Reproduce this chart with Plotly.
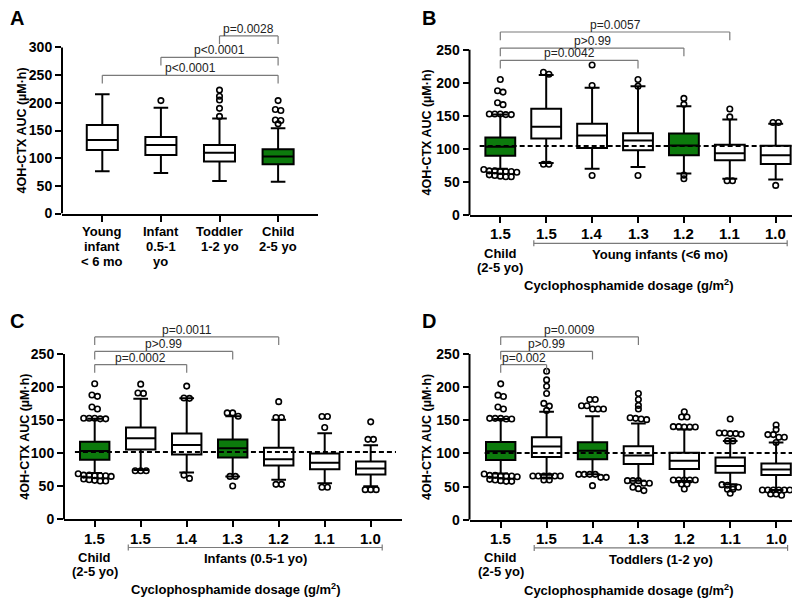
import plotly.graph_objects as go

# ---------------- data ----------------
A_LABELS = [["Young", "infant", "&lt; 6 mo"], ["Infant", "0.5-1", "yo"], ["Toddler", "1-2 yo"], ["Child", "2-5 yo"]]
A_LO = [76.6, 73.0, 58.8, 57.6]
A_Q1 = [114.7, 105.8, 94.0, 89.0]
A_MED = [133.0, 123.6, 110.0, 103.0]
A_Q3 = [159.8, 138.4, 124.0, 116.0]
A_HI = [215.7, 191.0, 171.7, 154.0]
A_OUT = [[], [204], [223, 212, 205, 190, 175.5], [204, 188, 186, 169, 168, 162]]
A_GREEN = [0, 0, 0, 1]
A_PVALS = [("p&lt;0.0001", 0, 3), ("p&lt;0.0001", 1, 3), ("p=0.0028", 2, 3)]

DOSE_LABELS = [["1.5"], ["1.5"], ["1.4"], ["1.3"], ["1.2"], ["1.1"], ["1.0"]]
CHILD_LINES = ["Child", "(2-5 yo)"]
X_TITLE = "Cyclophosphamide dosage (g/m<sup>2</sup>)"
Y_TITLE = "4OH-CTX AUC (µM·h)"

CHILD_OUT = [205, 188, 186, 170, 167, 153, 153, 153, 152, 152,
             69, 67, 67, 66, 66, 66, 65, 61, 60, 59, 58, 58]

B_GROUP = "Young infants (&lt;6 mo)"
B_LO = [70, 79, 70, 73, 63, 55, 54]
B_Q1 = [90, 116, 101.5, 98, 90.5, 83, 77.5]
B_MED = [103.5, 133.5, 120.5, 113, 105.5, 93.5, 90.5]
B_Q3 = [117.5, 161, 138, 124, 123.5, 106.5, 105]
B_HI = [152, 212, 192.5, 195, 164.5, 144.5, 138]
B_OUT = [CHILD_OUT, [216, 213, 77, 77], [227, 196, 60], [205, 195, 60],
         [176.5, 167.5, 60.5, 55], [160.5, 148.5, 52, 52], [140, 140, 45]]
B_GREEN = [1, 0, 0, 0, 1, 0, 0]
B_REF = 104.4
B_PVALS = [("p=0.0042", 0, 3), ("p&gt;0.99", 0, 4), ("p=0.0057", 0, 5)]

C_GROUP = "Infants (0.5-1 yo)"
C_LO = [70, 74.5, 71, 65, 60, 54.5, 50]
C_Q1 = [90, 105.5, 98, 93.5, 81.5, 76, 68]
C_MED = [103.5, 122.5, 112.5, 107.5, 91, 85.5, 77]
C_Q3 = [117.5, 139, 130, 120.8, 108.4, 99.5, 87.5]
C_HI = [152, 182.5, 183, 156, 150.7, 130.3, 112]
C_OUT = [CHILD_OUT, [204.5, 191, 190.5, 73.5, 73.5, 73.5], [201.5, 183.5, 183, 67, 62],
         [161, 161, 156, 65, 65, 50.5], [178, 154, 154, 53, 53],
         [155.5, 155.5, 139, 48.5, 48.5], [147.5, 121, 121, 45, 45, 45]]
C_GREEN = [1, 0, 0, 1, 0, 0, 0]
C_REF = 102
C_PVALS = [("p=0.0002", 0, 2), ("p&gt;0.99", 0, 3), ("p=0.0011", 0, 4)]

D_GROUP = "Toddlers (1-2 yo)"
D_LO = [70, 68, 68.5, 59, 58.5, 53.5, 45]
D_Q1 = [90, 94.7, 91.3, 84, 76.5, 71, 67.5]
D_MED = [103.5, 110.5, 104, 97, 89, 81, 76]
D_Q3 = [117.5, 124.5, 117, 111, 101, 94, 85]
D_HI = [152, 163, 156.3, 145.3, 136, 119, 116.5]
D_OUT = [CHILD_OUT,
         [224, 211, 201.5, 190.5, 175.5, 171.5, 165, 66, 66, 66, 66, 66, 66, 60, 60],
         [181.5, 181.5, 172, 172, 167, 167, 167, 68.5, 68.5, 68.5, 68.5, 64, 64, 51.5],
         [190.5, 181.5, 172.5, 167, 154, 153, 152, 151, 59, 59, 59, 55, 55, 49, 47, 44],
         [163, 155, 155, 140.5, 140.5, 140, 140, 140, 60, 60, 60, 60, 60, 54, 54, 46.5],
         [152, 131, 131, 130, 130, 129, 119, 119, 53, 52, 49, 49, 46, 46, 40],
         [143, 136, 128.5, 128.5, 124.5, 124.5, 116.5, 45, 45, 45, 45, 45, 45, 39, 39, 37]]
D_GREEN = [1, 0, 1, 0, 0, 0, 0]
D_REF = 100.8
D_PVALS = [("p=0.002", 0, 1), ("p&gt;0.99", 0, 2), ("p=0.0009", 0, 3)]

# ---------------- styling / geometry ----------------
W, H = 800, 601
FONT = "Liberation Sans, Arial, sans-serif"
GREEN = "#0c7a0c"
GRAY = "#7a7a7a"

PANELS = [
    dict(key="A", sfx="", letter=(8.5, 10), ytitle_x=14,
         x_left=54, x_right=310, cat0=94.3, step=58.6,
         y0=208.3, ppu=0.561, ymax=330, ytop=300, box_w=0.53, whisk=0.47,
         labels=A_LABELS, lab_size=13, lab_first=18.5, lab_gap=15,
         lo=A_LO, q1=A_Q1, med=A_MED, q3=A_Q3, hi=A_HI, out=A_OUT,
         green=A_GREEN, pvals=A_PVALS, ptops=[249.6, 282.2, 320.9], ref=None, group=None),
    dict(key="B", sfx="2", letter=(420.5, 10), ytitle_x=419,
         x_left=461.5, x_right=799, cat0=492.3, step=45.9,
         y0=210, ppu=0.6708, ymax=285, ytop=250, box_w=0.65, whisk=0.5,
         labels=DOSE_LABELS, lab_size=15, lab_first=19, lab_gap=15,
         lo=B_LO, q1=B_Q1, med=B_MED, q3=B_Q3, hi=B_HI, out=B_OUT,
         green=B_GREEN, pvals=B_PVALS, ptops=[234.0, 252.5, 276.8], ref=B_REF, ref_x=(-0.45, 6.41),
         group=B_GROUP, xtitle_px=621),
    dict(key="C", sfx="3", letter=(8.5, 317.5), ytitle_x=17,
         x_left=56, x_right=394, cat0=86.7, step=46.0,
         y0=518.3, ppu=0.6704, ymax=285, ytop=250, box_w=0.64, whisk=0.5,
         labels=DOSE_LABELS, lab_size=15, lab_first=19, lab_gap=15,
         lo=C_LO, q1=C_Q1, med=C_MED, q3=C_Q3, hi=C_HI, out=C_OUT,
         green=C_GREEN, pvals=C_PVALS, ptops=[234.0, 254.0, 275.9], ref=C_REF, ref_x=(-0.43, 6.55),
         group=C_GROUP, xtitle_px=228),
    dict(key="D", sfx="4", letter=(420.5, 317.5), ytitle_x=419,
         x_left=461.5, x_right=799, cat0=492.7, step=45.9,
         y0=518.7, ppu=0.672, ymax=285, ytop=250, box_w=0.64, whisk=0.5,
         labels=DOSE_LABELS, lab_size=15, lab_first=19, lab_gap=15,
         lo=D_LO, q1=D_Q1, med=D_MED, q3=D_Q3, hi=D_HI, out=D_OUT,
         green=D_GREEN, pvals=D_PVALS, ptops=[234.0, 254.0, 275.9], ref=D_REF, ref_x=(-0.35, 6.63),
         group=D_GROUP, xtitle_px=621),
]


def py(px):
    return 1 - px / H


def spread(values, tol, step):
    """GraphPad-like horizontal spreading of outliers that would overlap."""
    vals = sorted(values, reverse=True)
    xs, ys = [], []
    i = 0
    while i < len(vals):
        j = i
        while j < len(vals) and vals[i] - vals[j] < tol:
            j += 1
        n = j - i
        for k in range(n):
            xs.append((k - (n - 1) / 2) * step)
            ys.append(vals[i + k])
        i = j
    return xs, ys


def bold_text(xref, x, y, text, size, yanchor="middle"):
    return dict(xref=xref, yref="paper", x=x, y=y, text="<b>%s</b>" % text, showarrow=False,
                xanchor="center", yanchor=yanchor, font=dict(family=FONT, size=size, color="black"))


fig = go.Figure()
layout = dict(width=W, height=H, margin=dict(l=0, r=0, t=0, b=0), autosize=False,
              plot_bgcolor="white", paper_bgcolor="white", showlegend=False,
              font=dict(family=FONT, color="black"))
shapes, annos = [], []

for p in PANELS:
    xa, ya = "x" + p["sfx"], "y" + p["sfx"]
    r0 = (p["x_left"] - p["cat0"]) / p["step"]
    r1 = (p["x_right"] - p["cat0"]) / p["step"]
    n = len(p["labels"])
    ytop_px = p["y0"] - p["ymax"] * p["ppu"]
    layout["xaxis" + p["sfx"]] = dict(
        domain=[p["x_left"] / W, p["x_right"] / W], range=[r0, r1], anchor=ya,
        showgrid=False, zeroline=False, showline=True, linecolor="black", linewidth=2,
        ticks="outside", ticklen=6, tickwidth=2, tickcolor="black",
        tickvals=list(range(n)), showticklabels=False)
    layout["yaxis" + p["sfx"]] = dict(
        domain=[py(p["y0"]), py(ytop_px)], range=[0, p["ymax"]], anchor=xa,
        showgrid=False, zeroline=False, showline=False,
        ticks="outside", ticklen=6, tickwidth=2, tickcolor="black",
        tickvals=list(range(0, p["ytop"] + 1, 50)),
        tickfont=dict(family=FONT, size=14, color="black", weight="bold"))

    # y axis line (only up to the last tick)
    shapes.append(dict(type="line", xref=xa + " domain", yref=ya, x0=0, x1=0, y0=0, y1=p["ytop"],
                       line=dict(color="black", width=2)))

    # category labels (one annotation per line for exact line spacing)
    for i, lines in enumerate(p["labels"]):
        for k, ln in enumerate(lines):
            annos.append(bold_text(xa, i, py(p["y0"] + p["lab_first"] + k * p["lab_gap"]), ln, p["lab_size"]))

    # boxes
    for i in range(n):
        fig.add_trace(go.Box(
            x=[i], q1=[p["q1"][i]], median=[p["med"][i]], q3=[p["q3"][i]],
            lowerfence=[p["lo"][i]], upperfence=[p["hi"][i]],
            width=p["box_w"], whiskerwidth=p["whisk"], boxpoints=False,
            fillcolor=GREEN if p["green"][i] else "white",
            line=dict(color="black", width=2), xaxis=xa, yaxis=ya, hoverinfo="skip"))

    # outliers
    tol = 3.5 / p["ppu"]
    stp = 5.5 / p["step"]
    for i in range(n):
        if not p["out"][i]:
            continue
        dx, yy = spread(p["out"][i], tol, stp)
        fig.add_trace(go.Scatter(
            x=[i + d for d in dx], y=yy, mode="markers", xaxis=xa, yaxis=ya,
            marker=dict(symbol="circle-open", size=5.5, color="black", line=dict(width=1.6)),
            cliponaxis=False, hoverinfo="skip"))

    # dashed reference line (child median)
    if p["ref"] is not None:
        fig.add_trace(go.Scatter(
            x=list(p["ref_x"]), y=[p["ref"], p["ref"]], mode="lines", xaxis=xa, yaxis=ya,
            line=dict(color="black", width=2, dash="5px,3px"), hoverinfo="skip"))

    # p-value brackets
    drop = 8.3 / p["ppu"]
    for (txt, a, b), top in zip(p["pvals"], p["ptops"]):
        for (x0, y0_, x1, y1_) in [(a, top, b, top), (a, top - drop, a, top), (b, top - drop, b, top)]:
            shapes.append(dict(type="line", xref=xa, yref=ya, x0=x0, x1=x1, y0=y0_, y1=y1_,
                               line=dict(color=GRAY, width=1.2)))
        annos.append(dict(xref=xa, yref=ya, x=(a + b) / 2, y=top, text=txt, showarrow=False,
                          xanchor="center", yanchor="bottom", yshift=-2,
                          font=dict(family=FONT, size=12, color="#222")))

    # panel letter
    annos.append(bold_text("paper", p["letter"][0] / W, py(p["letter"][1]), p["key"], 20))
    # y title
    yt = bold_text("paper", p["ytitle_x"] / W, py(p["y0"] - p["ytop"] * p["ppu"] / 2), Y_TITLE, 12.5)
    yt["textangle"] = -90
    annos.append(yt)

    if p["group"] is not None:
        base = p["y0"]
        gy = py(base + 28.5)
        gt = 3 / H
        shapes.append(dict(type="line", xref=xa, yref="paper", x0=0.73, x1=6.25, y0=gy, y1=gy,
                           line=dict(color=GRAY, width=1.2)))
        for gx in (0.73, 6.25):
            shapes.append(dict(type="line", xref=xa, yref="paper", x0=gx, x1=gx, y0=gy - gt, y1=gy + gt,
                               line=dict(color=GRAY, width=1.2)))
        annos.append(bold_text(xa, 0, py(base + 38.5), CHILD_LINES[0], 13))
        annos.append(bold_text(xa, 0, py(base + 52.5), CHILD_LINES[1], 13))
        annos.append(bold_text(xa, (0.73 + 6.25) / 2, py(base + 40), p["group"], 13))
        annos.append(bold_text("paper", p["xtitle_px"] / W, py(min(base + 81, H - 0.5)), X_TITLE, 13,
                               yanchor="bottom"))

layout["shapes"] = shapes
layout["annotations"] = annos
fig.update_layout(**layout)
fig.write_html("out.html")
